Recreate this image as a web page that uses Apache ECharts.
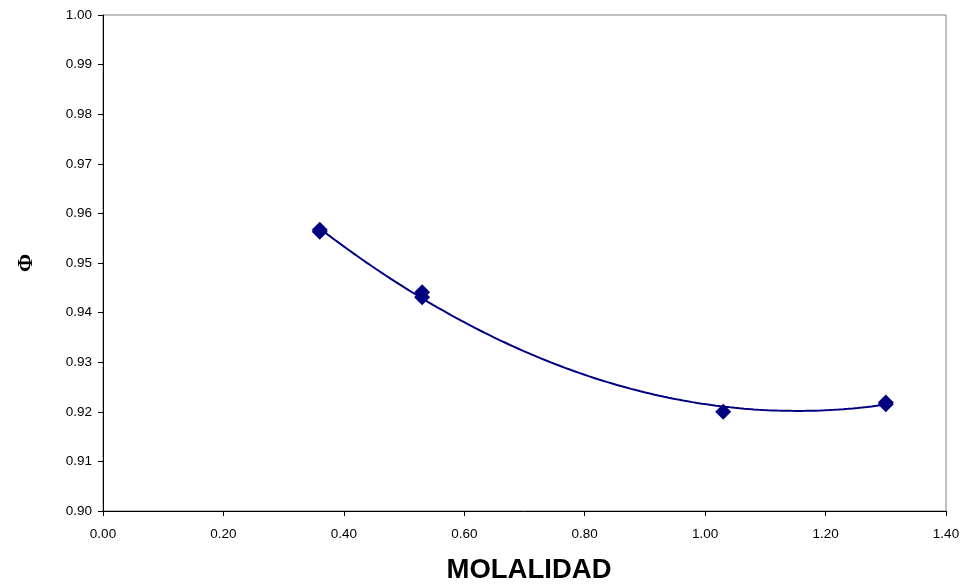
<!DOCTYPE html>
<html>
<head>
<meta charset="utf-8">
<script src="https://cdn.jsdelivr.net/npm/echarts@6/dist/echarts.min.js"></script>
<style>
  html, body { margin: 0; padding: 0; background: #fff; }
  #chart { width: 967px; height: 584px; }
</style>
</head>
<body>
<div id="chart"></div>
<script>
// Measured osmotic coefficient vs molality
const molality = [0.36, 0.36, 0.53, 0.53, 1.03, 1.30, 1.30];
const phi      = [0.9567, 0.9563, 0.9441, 0.9431, 0.9200, 0.9219, 0.9215];

const xTicks = { min: 0, max: 1.4, step: 0.2 };
const yTicks = { min: 0.90, max: 1.00, step: 0.01 };

// Second-order least-squares trendline through the measured points
function quadFit(xs, ys) {
  const n = xs.length;
  let s = [0, 0, 0, 0, 0], t = [0, 0, 0];
  for (let i = 0; i < n; i++) {
    let p = 1;
    for (let k = 0; k < 5; k++) { s[k] += p; if (k < 3) t[k] += p * ys[i]; p *= xs[i]; }
  }
  const A = [[s[0], s[1], s[2], t[0]], [s[1], s[2], s[3], t[1]], [s[2], s[3], s[4], t[2]]];
  for (let c = 0; c < 3; c++) {
    for (let r = c + 1; r < 3; r++) {
      const f = A[r][c] / A[c][c];
      for (let k = c; k < 4; k++) A[r][k] -= f * A[c][k];
    }
  }
  const b = [0, 0, 0];
  for (let r = 2; r >= 0; r--) {
    let v = A[r][3];
    for (let k = r + 1; k < 3; k++) v -= A[r][k] * b[k];
    b[r] = v / A[r][r];
  }
  return b;
}
const coef = quadFit(molality, phi);
const xLo = Math.min(...molality), xHi = Math.max(...molality);
const trend = [];
for (let i = 0; i <= 120; i++) {
  const x = xLo + (xHi - xLo) * i / 120;
  trend.push([x, coef[0] + coef[1] * x + coef[2] * x * x]);
}

const navy = '#000080';
const tickFont = { color: '#000', fontFamily: 'Liberation Sans, Arial', fontSize: 13.5 };
const chart = echarts.init(document.getElementById('chart'));
chart.setOption({
  animation: false,
  grid: { left: 103, top: 15, right: 21, bottom: 73, containLabel: false, outerBoundsMode: 'none',
    show: true, borderColor: '#808080', borderWidth: 1 },
  xAxis: {
    type: 'value', min: xTicks.min, max: xTicks.max, interval: xTicks.step,
    name: 'MOLALIDAD', nameLocation: 'middle', nameGap: 45,
    nameTextStyle: { fontFamily: 'Liberation Sans, Arial', fontWeight: 'bold', fontSize: 27.5, color: '#000',
      padding: [0, 0, 0, 9] },
    axisLine: { lineStyle: { color: '#000', width: 1 } },
    axisTick: { inside: false, length: 5, lineStyle: { color: '#000' } },
    axisLabel: Object.assign({ margin: 16, formatter: v => v.toFixed(2) }, tickFont),
    splitLine: { show: false }
  },
  yAxis: {
    type: 'value', min: yTicks.min, max: yTicks.max, interval: yTicks.step,
    name: 'Φ', nameLocation: 'middle', nameGap: 66, nameRotate: 90,
    nameTextStyle: { fontFamily: 'Liberation Serif, Times New Roman', fontWeight: 'bold', fontSize: 22, color: '#000' },
    axisLine: { lineStyle: { color: '#000', width: 1 } },
    axisTick: { inside: false, length: 5, lineStyle: { color: '#000' } },
    axisLabel: Object.assign({ margin: 11, formatter: v => v.toFixed(2) }, tickFont),
    splitLine: { show: false }
  },
  series: [
    {
      type: 'line', data: trend, showSymbol: false, smooth: false,
      lineStyle: { color: navy, width: 2 }, z: 2
    },
    {
      type: 'scatter', data: molality.map((x, i) => [x, phi[i]]),
      symbol: 'diamond', symbolSize: 16,
      itemStyle: { color: navy, opacity: 1 }, z: 3
    }
  ]
});
</script>
</body>
</html>
